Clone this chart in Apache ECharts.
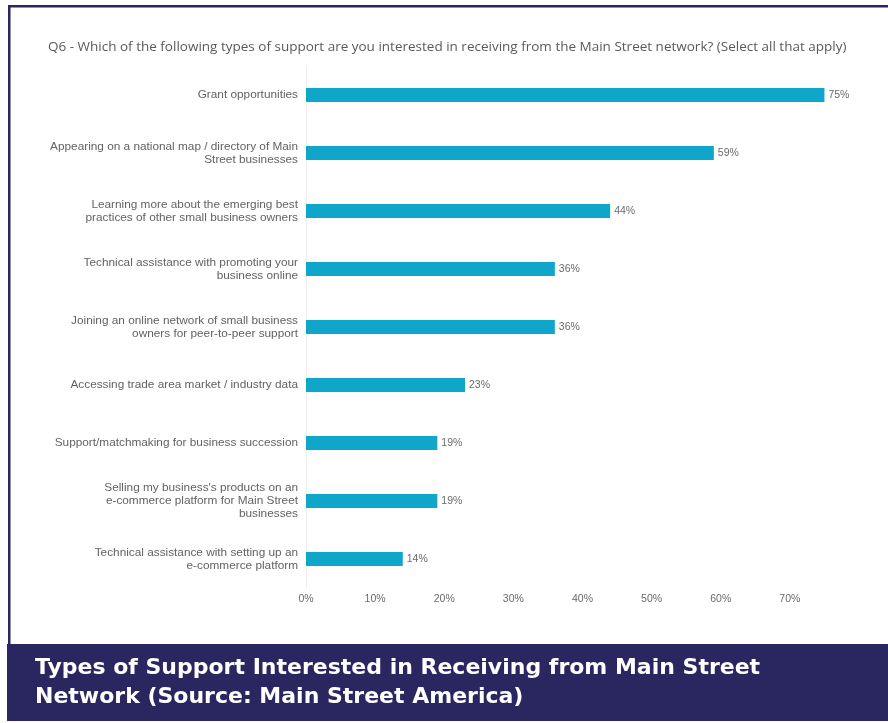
<!DOCTYPE html>
<html>
<head>
<meta charset="utf-8">
<script src="https://cdn.jsdelivr.net/npm/echarts@6/dist/echarts.min.js"></script>
<style>
  html, body { margin: 0; padding: 0; background: #ffffff; }
  #chart { width: 888px; height: 723px; }
</style>
</head>
<body>
<div id="chart"></div>
<script>
// Survey question and response categories (top to bottom)
const questionText = 'Q6 - Which of the following types of support are you interested in receiving from the Main Street network? (Select all that apply)';
const captionText = 'Types of Support Interested in Receiving from Main Street\nNetwork (Source: Main Street America)';

const categories = [
  'Grant opportunities',
  'Appearing on a national map / directory of Main\nStreet businesses',
  'Learning more about the emerging best\npractices of other small business owners',
  'Technical assistance with promoting your\nbusiness online',
  'Joining an online network of small business\nowners for peer-to-peer support',
  'Accessing trade area market / industry data',
  'Support/matchmaking for business succession',
  "Selling my business's products on an\ne-commerce platform for Main Street\nbusinesses",
  'Technical assistance with setting up an\ne-commerce platform'
];

// Share of respondents interested, in percent
const percentValues = [75, 59, 44, 36, 36, 23, 19, 19, 14];

// Percent tick labels shown along the bottom axis
const tickLabels = ['0%', '10%', '20%', '30%', '40%', '50%', '60%', '70%'];

const chart = echarts.init(document.getElementById('chart'), null, { renderer: 'canvas' });

const navy = '#2a2660';
const barColor = '#0fa6ca';
const textGray = '#5a5a5a';

chart.setOption({
  backgroundColor: '#ffffff',
  animation: false,
  title: {
    text: questionText,
    left: 43,
    top: 35,
    textStyle: {
      fontFamily: 'Open Sans',
      fontSize: 13.5,
      fontWeight: 'normal',
      color: textGray
    }
  },
  grid: {
    left: 306,
    top: 66,
    width: 553,
    height: 522,
    containLabel: false
  },
  xAxis: {
    type: 'value',
    min: 0,
    max: 80,
    interval: 10,
    axisLine: { show: false },
    axisTick: { show: false },
    splitLine: { show: false },
    axisLabel: {
      margin: 6,
      fontFamily: 'Liberation Sans',
      fontSize: 10.5,
      color: '#6a6a6a',
      formatter: function (v) {
        const i = Math.round(v / 10);
        return i < tickLabels.length ? tickLabels[i] : '';
      }
    }
  },
  yAxis: {
    type: 'category',
    data: categories,
    inverse: true,
    axisLine: { show: true, lineStyle: { color: '#eeeeee', width: 1 } },
    axisTick: { show: false },
    axisLabel: {
      margin: 8,
      align: 'right',
      fontFamily: 'Liberation Sans',
      fontSize: 11.8,
      lineHeight: 13,
      color: '#626262'
    }
  },
  series: [{
    type: 'bar',
    data: percentValues,
    barWidth: 14,
    itemStyle: { color: barColor },
    label: {
      show: true,
      position: 'right',
      distance: 4,
      fontFamily: 'Liberation Sans',
      fontSize: 10.5,
      color: '#6a6a6a',
      formatter: function (p) { return p.value + '%'; }
    }
  }],
  graphic: [
    // frame lines along the top and left
    { type: 'rect', shape: { x: 8, y: 5, width: 880, height: 2.5 }, style: { fill: navy }, silent: true },
    { type: 'rect', shape: { x: 8, y: 5, width: 2.5, height: 640 }, style: { fill: navy }, silent: true },
    // caption band
    { type: 'rect', shape: { x: 7, y: 644, width: 881, height: 77 }, style: { fill: navy }, silent: true },
    {
      type: 'text',
      left: 35,
      top: 654,
      style: {
        text: captionText,
        fill: '#ffffff',
        font: 'bold 22px "DejaVu Sans"',
        lineHeight: 29
      },
      silent: true
    }
  ]
});
</script>
</body>
</html>
